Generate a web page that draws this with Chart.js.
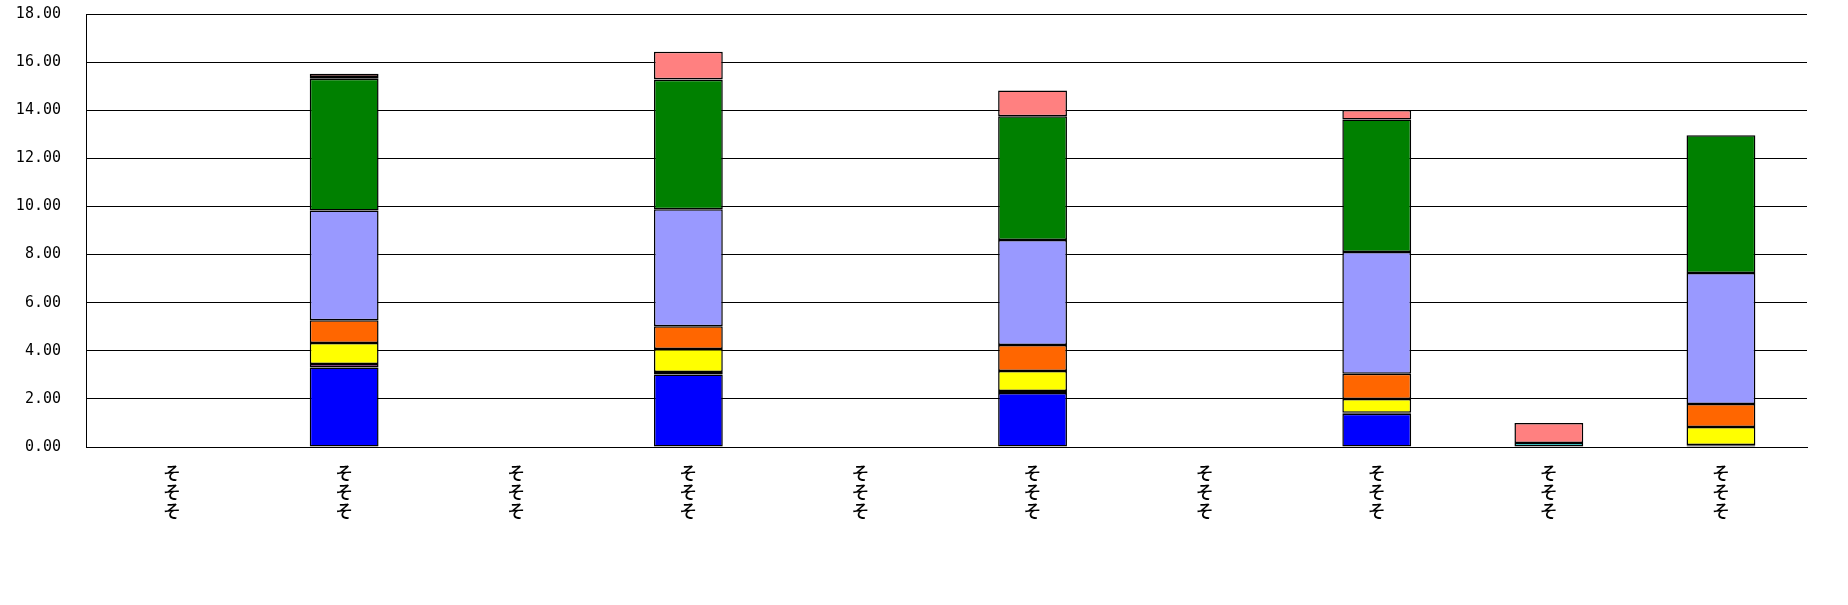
<!DOCTYPE html>
<html lang="ja">

<head>
  <meta charset="UTF-8" />
  <title>積み上げ棒グラフ</title>
  <style>
    body { margin: 0; background: #fff; }
    .chart-box { width: 1848px; height: 605px; position: relative; }
  </style>
</head>

<body>
  <div class="chart-box">
    <canvas id="myChart"></canvas>
  </div>

  <script src="https://cdn.jsdelivr.net/npm/chart.js"></script>
  <script>
    // カテゴリ（縦書きラベル）
    const categories = [
      ["そ", "そ", "そ"], ["そ", "そ", "そ"], ["そ", "そ", "そ"], ["そ", "そ", "そ"], ["そ", "そ", "そ"],
      ["そ", "そ", "そ"], ["そ", "そ", "そ"], ["そ", "そ", "そ"], ["そ", "そ", "そ"], ["そ", "そ", "そ"]
    ];

    // 系列データ（下から順）
    const blue = [null, 3.31, null, 3.01, null, 2.25, null, 1.38, null, 0.05];
    const purple = [null, 0.14, null, 0.11, null, 0.08, null, 0.04, null, 0.03];
    const yellow = [null, 0.87, null, 0.95, null, 0.83, null, 0.58, null, 0.75];
    const orange = [null, 0.95, null, 0.95, null, 1.08, null, 1.04, null, 0.96];
    const lavender = [null, 4.56, null, 4.86, null, 4.36, null, 5.07, null, 5.44];
    const green = [null, 5.48, null, 5.39, null, 5.15, null, 5.50, null, 5.73];
    const cyan = [null, 0.07, null, 0.02, null, null, null, null, 0.17, null];
    const pink = [null, 0.14, null, 1.14, null, 1.07, null, 0.40, 0.83, null];

    // 目盛り
    const yTicks = [0, 2, 4, 6, 8, 10, 12, 14, 16, 18];

    const series = [
      { label: "系列1", data: blue, color: "#0000FF" },
      { label: "系列2", data: purple, color: "#800080" },
      { label: "系列3", data: yellow, color: "#FFFF00" },
      { label: "系列4", data: orange, color: "#FF6600" },
      { label: "系列5", data: lavender, color: "#9999FF" },
      { label: "系列6", data: green, color: "#008000" },
      { label: "系列7", data: cyan, color: "#00FFFF" },
      { label: "系列8", data: pink, color: "#FF8080" }
    ];

    const ctx = document.getElementById("myChart").getContext("2d");
    new Chart(ctx, {
      type: "bar",
      data: {
        labels: categories,
        datasets: series.map((s) => ({
          label: s.label,
          data: s.data,
          backgroundColor: s.color,
          borderColor: "#000",
          borderWidth: 1.5,
          borderSkipped: false,
          categoryPercentage: 1,
          barPercentage: 0.4
        }))
      },
      options: {
        responsive: true,
        maintainAspectRatio: false,
        animation: false,
        layout: { padding: { top: 14, right: 41, left: 0, bottom: 0 } },
        plugins: {
          legend: { display: false },
          tooltip: { enabled: false }
        },
        scales: {
          x: {
            stacked: true,
            grid: { display: false, drawTicks: false },
            border: { display: true, color: "#000", width: 1 },
            ticks: {
              color: "#000",
              padding: 17,
              maxRotation: 0,
              autoSkip: false,
              font: { family: "'Noto Sans CJK JP'", size: 18, weight: 500, lineHeight: 1.04 }
            },
            afterFit: (scale) => { scale.height = 158; }
          },
          y: {
            stacked: true,
            min: 0,
            max: 18,
            afterBuildTicks: (scale) => { scale.ticks = yTicks.map((v) => ({ value: v })); },
            grid: { color: "#000", lineWidth: 1, drawTicks: false },
            border: { display: true, color: "#000", width: 1 },
            ticks: {
              color: "#000",
              padding: 25,
              font: { family: "'DejaVu Sans Mono'", size: 15 },
              callback: (v) => Number(v).toFixed(2)
            },
            afterFit: (scale) => {
              scale.width = 86;
              scale.paddingTop = 0;
              scale.paddingBottom = 0;
            }
          }
        }
      }
    });
  </script>
</body>

</html>
